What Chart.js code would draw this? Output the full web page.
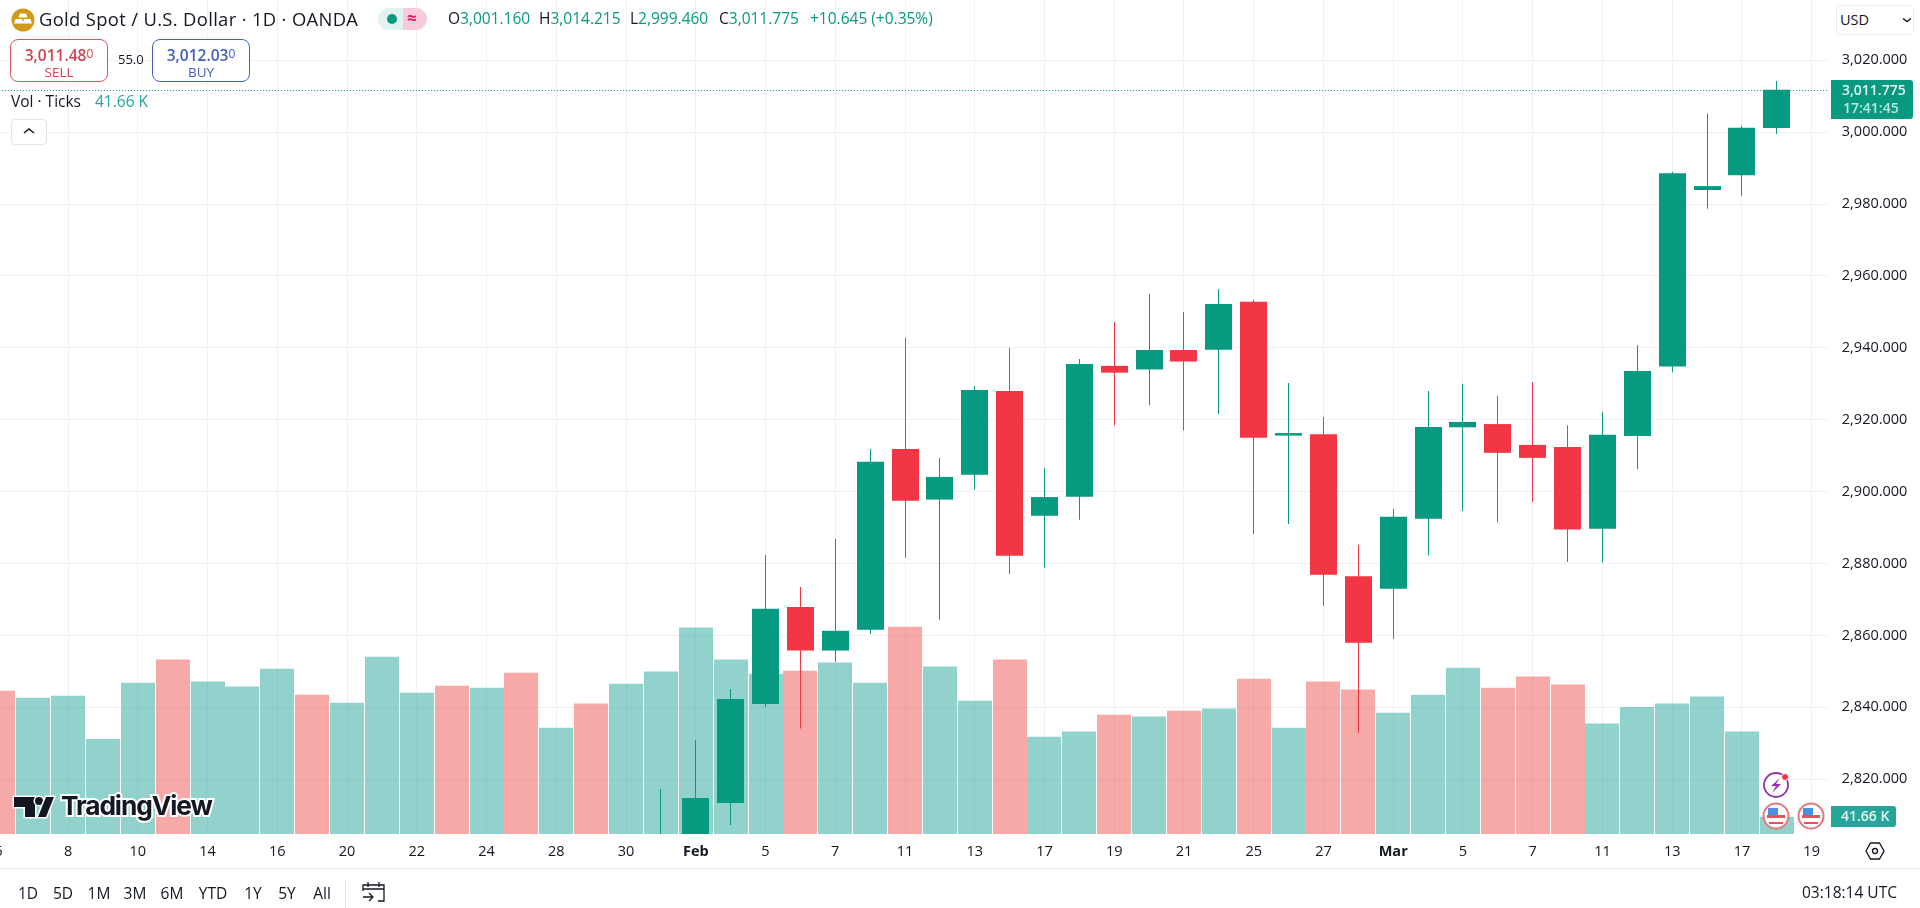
<!DOCTYPE html>
<html>
<head>
<meta charset="utf-8">
<title>Gold Spot / U.S. Dollar</title>
<script src="https://cdn.jsdelivr.net/npm/chart.js@4/dist/chart.umd.min.js"></script>
<style>
  html, body { margin: 0; padding: 0; background: #fff; width: 1920px; height: 908px; overflow: hidden; font-family: "Open Sans", sans-serif; color: #131722; }
  #chartBox { position: absolute; left: -20px; top: 0; width: 1940px; height: 908px; }
  .t { position: absolute; white-space: nowrap; line-height: 1; }
  .up { color: #089981; }
  .abs { position: absolute; box-sizing: border-box; }
  .quote { border-radius: 8px; border: 1px solid; background: #fff; text-align: center; }
  .quote b { font-weight: 600; font-size: 15.5px; display: block; margin-top: 5px; line-height: 20px; }
  .quote b sup { font-weight: 400; font-size: 12px; line-height: 0; vertical-align: 3px; }
  .quote span { font-size: 13.5px; display: block; line-height: 14px; }
  .tf { position: absolute; top: 884px; font-size: 15.5px; line-height: 18px; transform: translateX(-50%); }
</style>
</head>
<body>
<div id="chartBox"><canvas id="goldChart"></canvas></div>

<!-- header -->
<svg class="abs" style="left:11px;top:8px" width="24" height="24" viewBox="0 0 24 24">
  <circle cx="12" cy="12" r="11.5" fill="#d29a1c"/>
  <path d="M9 5.5h6l1.5 4h-9zM4.5 11h6.5l1.5 4.5H3zM13 11h6.5l1.5 4.5h-9.5z" fill="#fff"/>
</svg>
<div class="t" style="left:39px;top:10px;font-size:18.4px;letter-spacing:0.34px">Gold Spot / U.S. Dollar · 1D · OANDA</div>
<div class="abs" style="left:378px;top:8px;width:25px;height:22px;background:#e1f3f0;border-radius:11px 0 0 11px"></div>
<div class="abs" style="left:403px;top:8px;width:24px;height:22px;background:#f9cadb;border-radius:0 11px 11px 0"></div>
<div class="abs" style="left:387px;top:14px;width:10px;height:10px;background:#089981;border-radius:50%"></div>
<div class="t" style="left:407px;top:9px;font-size:17px;font-weight:700;color:#d81e63">≈</div>
<div class="t" style="left:448px;top:11px;font-size:15.5px">O<span class="up">3,001.160</span></div>
<div class="t" style="left:539px;top:11px;font-size:15.5px">H<span class="up">3,014.215</span></div>
<div class="t" style="left:630px;top:11px;font-size:15.5px">L<span class="up">2,999.460</span></div>
<div class="t" style="left:719px;top:11px;font-size:15.5px">C<span class="up">3,011.775</span></div>
<div class="t up" style="left:810px;top:11px;font-size:15.5px">+10.645 (+0.35%)</div>

<div class="abs quote" style="left:10px;top:39px;width:98px;height:43px;border-color:#d9545f;color:#d63f4c"><b>3,011.48<sup>0</sup></b><span>SELL</span></div>
<div class="t" style="left:118px;top:53px;font-size:13px">55.0</div>
<div class="abs quote" style="left:152px;top:39px;width:98px;height:43px;border-color:#3f65b8;color:#3f5fc4"><b>3,012.03<sup>0</sup></b><span>BUY</span></div>

<div class="t" style="left:11px;top:94px;font-size:15.5px">Vol · Ticks</div>
<div class="t" style="left:95px;top:94px;font-size:15.5px;color:#26a69a">41.66 K</div>
<div class="abs" style="left:11px;top:119px;width:36px;height:26px;background:#fff;border:1px solid #e0e3eb;border-radius:4px"></div>
<svg class="abs" style="left:22px;top:126px" width="14" height="10"><path d="M2 7l5-4 5 4" fill="none" stroke="#131722" stroke-width="1.6"/></svg>

<!-- currency box -->
<div class="abs" style="left:1836px;top:5px;width:78px;height:30px;background:#fff;border:1px solid #e9ebf0;border-radius:5px"></div>
<div class="t" style="left:1840px;top:13px;font-size:14.5px">USD</div>
<svg class="abs" style="left:1902px;top:17px" width="10" height="7"><path d="M1 1.5l4 3 4-3" fill="none" stroke="#131722" stroke-width="1.4"/></svg>

<!-- last price labels -->
<div class="abs" style="left:1831px;top:80px;width:82px;height:39px;background:#089981;border-radius:0 3px 3px 0"></div>
<div class="t" style="left:1842px;top:83px;font-size:14px;font-weight:600;color:#e4f7f1">3,011.775</div>
<div class="t" style="left:1843px;top:101px;font-size:14px;font-weight:600;color:#b3ebdc">17:41:45</div>
<div class="abs" style="left:1831px;top:806px;width:65px;height:21px;background:#26a69a;border-radius:0 3px 3px 0"></div>
<div class="t" style="left:1841px;top:809px;font-size:14px;font-weight:600;color:#e4f7f1">41.66 K</div>

<!-- logo -->
<svg class="abs" style="left:10px;top:792px" width="50" height="30" viewBox="0 0 50 30">
  <g fill="#131722" stroke="#fff" stroke-width="3" paint-order="stroke">
    <path d="M4 5h21v20H15V15H4z"/><circle cx="29" cy="9" r="4"/><path d="M36 5h8l-8 20h-8z"/>
  </g>
</svg>
<div class="t" style="left:61px;top:793px;font-size:26.3px;font-weight:700;font-family:Inter;letter-spacing:-1.1px;color:#131722;-webkit-text-stroke:4px #fff;paint-order:stroke fill">TradingView</div>

<!-- event icons -->
<svg class="abs" style="left:1760px;top:770px" width="70" height="62" viewBox="0 0 70 62">
  <circle cx="16" cy="15" r="12" fill="#fff" stroke="#8e35a8" stroke-width="1.8"/>
  <path d="M20 8l-9 8h5l-4 7 9-9h-5z" fill="#9c2fc0"/>
  <circle cx="25" cy="7" r="3.5" fill="#f23645" stroke="#fff"/>
  <g id="flag">
    <circle cx="16" cy="46" r="12.5" fill="#fff" stroke="#e2777d" stroke-width="2"/>
    <path d="M7 45h18v3H7zM9 52h14v2H9z" fill="#e8505b"/>
    <path d="M8 38h10v7H8z" fill="#4a90e2"/>
  </g>
  <use href="#flag" x="35"/>
</svg>

<!-- bottom bar -->
<div class="abs" style="left:0;top:868px;width:1920px;height:1px;background:#e4e6ec"></div>
<div class="tf" style="left:28px">1D</div>
<div class="tf" style="left:63px">5D</div>
<div class="tf" style="left:99px">1M</div>
<div class="tf" style="left:135px">3M</div>
<div class="tf" style="left:172px">6M</div>
<div class="tf" style="left:213px">YTD</div>
<div class="tf" style="left:253px">1Y</div>
<div class="tf" style="left:287px">5Y</div>
<div class="tf" style="left:322px">All</div>
<div class="abs" style="left:345px;top:880px;width:1px;height:28px;background:#e4e6ec"></div>
<svg class="abs" style="left:361px;top:880px" width="26" height="24" fill="none" stroke="#131722" stroke-width="1.3">
  <path d="M2 11V5h21v16h-6M2 9h21M7 2v5M18 2v5M2 17h9M8 13l4 4-4 4"/>
</svg>
<div class="t" style="left:1802px;top:885px;font-size:15.5px">03:18:14 UTC</div>
<svg class="abs" style="left:1865px;top:842px" width="20" height="18" fill="none" stroke="#131722" stroke-width="1.3">
  <path d="M1 9l4.5-8h9l4.5 8-4.5 8h-9z"/><circle cx="10" cy="9" r="2.5"/>
</svg>

<script>
// session labels, one per trading day
const dateLabels = ["6","7","8","9","10","13","14","15","16","17","20","21","22","23","24","27","28","29","30","31",
  "Feb","4","5","6","7","10","11","12","13","14","17","18","19","20","21","24","25","26","27","28",
  "Mar","4","5","6","7","10","11","12","13","14","17","18","19"];

const priceTicks = [2820,2840,2860,2880,2900,2920,2940,2960,2980,3000,3020];

// candles (prices), January sessions sit below the visible range
const openValues = [null,null,null,null,null,null,null,null,null,null,null,null,null,null,null,null,null,null,null,2790,
  2798,2813.4,2840.9,2867.9,2855.8,2861.6,2911.9,2897.8,2904.7,2928,2893.3,2898.6,2935,2934,2939.4,2939.5,2952.8,2915.6,
  2916,2876.5,2873,2892.5,2917.9,2918.8,2913,2912.4,2889.7,2915.5,2934.8,2983.9,2988,3001.16];
const highValues = [null,null,null,null,null,null,null,null,null,null,null,null,null,null,null,null,null,null,null,2817.3,
  2830.9,2845.1,2882.4,2873.5,2886.8,2911.9,2942.8,2909.4,2929.4,2940,2906.6,2936.9,2947.2,2955,2950,2956.4,2953.3,2930.2,
  2920.8,2885.2,2895.2,2928,2930,2926.6,2930.5,2918.5,2922.2,2940.8,2989,3005.2,3001.7,3014.215];
const lowValues = [null,null,null,null,null,null,null,null,null,null,null,null,null,null,null,null,null,null,null,2772,
  2772,2807.3,2840,2834.1,2852.6,2860.5,2881.6,2864.4,2900.5,2877.1,2878.9,2892.2,2918.5,2924.1,2917,2921.6,2888.2,2891,
  2868.2,2832.9,2859.1,2882.3,2894.6,2891.4,2897.1,2880.4,2880.2,2906.3,2933.2,2978.7,2982.3,2999.46];
const closeValues = [null,null,null,null,null,null,null,null,null,null,null,null,null,null,null,null,null,null,null,2798,
  2814.8,2842.3,2867.4,2855.8,2861.3,2908.3,2897.5,2904.1,2928.3,2882.2,2898.5,2935.5,2933.1,2939.4,2936.2,2952.2,2915,2916.3,
  2876.9,2858,2893,2918,2919.4,2910.8,2909.4,2889.5,2915.8,2933.6,2988.6,2985,3001.2,3011.775];

// tick volume in thousands, and whether each session closed up (1) or down (0)
const volumeValues = [345,328,333,229,364,420,367,355,398,335,316,427,340,357,352,388,256,314,362,391,
  497,420,386,393,413,364,499,403,321,420,234,247,287,283,297,302,374,256,367,348,292,335,400,352,379,360,266,306,314,331,247,41.66];
const volumeUp = [0,1,1,1,1,0,1,1,1,0,1,1,1,0,1,0,1,0,1,1,
  1,1,1,0,1,1,0,1,1,0,1,1,0,1,0,1,0,1,0,0,1,1,1,0,0,0,1,1,1,1,1,1];

const lastPrice = 3011.775;
const green = "#089981", red = "#f23645";
const gridColor = "#f0f1f4";

function candleColor(ctx) {
  const i = ctx.dataIndex;
  return closeValues[i] >= openValues[i] ? green : red;
}

// snaps bars to whole pixels so the 1px wicks stay crisp, and draws the dotted last price line
const chartExtras = {
  id: "chartExtras",
  afterDatasetsUpdate(chart) {
    chart.data.datasets.forEach((ds, n) => {
      chart.getDatasetMeta(n).data.forEach(el => {
        el.x = ds.label === "Vol" ? Math.round(el.x) : Math.floor(el.x) + 0.5;
      });
    });
  },
  afterDatasetsDraw(chart) {
    const y = Math.round(chart.scales.y.getPixelForValue(lastPrice)) + 0.5;
    const c = chart.ctx;
    c.save();
    c.strokeStyle = green;
    c.lineWidth = 1;
    c.setLineDash([1, 2]);
    c.beginPath();
    c.moveTo(chart.chartArea.left, y);
    c.lineTo(chart.chartArea.right, y);
    c.stroke();
    c.restore();
  }
};

new Chart(document.getElementById("goldChart"), {
  type: "bar",
  data: {
    labels: dateLabels,
    datasets: [
      {
        label: "Body", order: 1, yAxisID: "y", barThickness: 27, grouped: false, inflateAmount: 0,
        data: openValues.map((o, i) => o === null ? null : [o, closeValues[i]]),
        backgroundColor: candleColor
      },
      {
        label: "Wick", order: 2, yAxisID: "y", barThickness: 1, grouped: false, inflateAmount: 0,
        data: lowValues.map((l, i) => l === null ? null : [l, highValues[i]]),
        backgroundColor: candleColor
      },
      {
        label: "Vol", order: 3, yAxisID: "vol", barThickness: 34, grouped: false, inflateAmount: 0,
        data: volumeValues,
        backgroundColor: ctx => volumeUp[ctx.dataIndex] ? "rgba(38,166,154,0.5)" : "rgba(239,83,80,0.5)"
      }
    ]
  },
  options: {
    responsive: true,
    maintainAspectRatio: false,
    animation: false,
    layout: { autoPadding: false, padding: { left: 0.9, top: 0, right: 0, bottom: 0 } },
    plugins: { legend: { display: false }, tooltip: { enabled: false } },
    scales: {
      x: {
        offset: true,
        afterFit: s => { s.height = 74; s.paddingLeft = 0; s.paddingRight = 0; },
        border: { display: false },
        grid: { color: gridColor, drawTicks: false, offset: false },
        ticks: {
          autoSkip: false, maxRotation: 0, padding: 9, color: "#131722",
          font: ctx => ({ family: "Open Sans", size: 14.5, weight: /[a-z]/i.test(ctx.tick.label || "") ? "700" : "400" }),
          callback(value, index) { return index % 2 ? null : dateLabels[index]; }
        }
      },
      y: {
        position: "right",
        bounds: "data",
        min: 2804.77, max: 3036.77,
        // the label padding would otherwise push the plot down from the top edge
        afterFit: s => { s.width = 90.9; s.paddingTop = 0; s.paddingBottom = 0; },
        afterBuildTicks: s => { s.ticks = priceTicks.map(value => ({ value })); },
        border: { display: false },
        grid: { color: gridColor, drawTicks: false },
        ticks: {
          padding: 12.7, color: "#131722",
          font: { family: "Open Sans", size: 14.5 },
          callback: v => v.toLocaleString("en-US", { minimumFractionDigits: 3, maximumFractionDigits: 3 })
        }
      },
      vol: { display: false, min: 0, max: 2008 }
    }
  },
  plugins: [chartExtras]
});
</script>
</body>
</html>
